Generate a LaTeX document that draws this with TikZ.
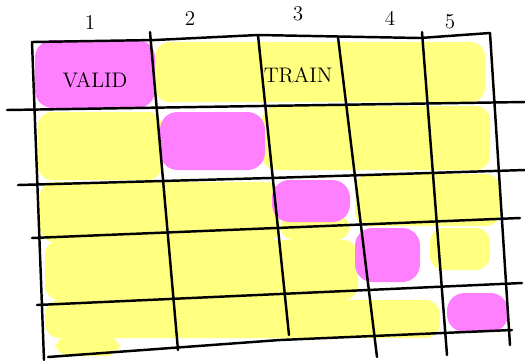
\documentclass[tikz,border=0pt]{standalone}
\usepackage{tikz}
\usepackage{color}

\definecolor{validpink}{HTML}{FF80FF}
\definecolor{trainyellow}{HTML}{FFFF80}

\begin{document}
\begin{tikzpicture}[x=0.02cm, y=-0.02cm,
    gridline/.style={line width=1.4pt, line cap=round, line join=round},
    trainfill/.style={fill=trainyellow, rounded corners=8},
    validfill/.style={fill=validpink, rounded corners=10},
    label/.style={font=\large}]
            % Fix the page to the size of the reference.
            \useasboundingbox (0,0) rectangle (525,360);

            % Yellow marker strokes for the training folds.
            \fill[trainfill] (155,42) rectangle (485,102);
            \fill[trainfill] (38,112) rectangle (162,180);
            \fill[trainfill] (262,106) rectangle (490,170);
            \fill[trainfill] (40,182) rectangle (280,242);
            \fill[trainfill] (280,215) rectangle (350,240);
            \fill[trainfill] (355,174) rectangle (500,226);
            \fill[trainfill] (45,240) rectangle (358,300);
            \fill[trainfill] (430,228) rectangle (490,270);
            \fill[trainfill] (45,300) rectangle (440,338);
            \fill[trainfill] (55,336) rectangle (120,356);

            % Pink marker strokes for the validation fold, one per row.
            \fill[validfill] (35,40) rectangle (155,108);
            \fill[validfill] (160,112) rectangle (265,170);
            \fill[validfill] (272,180) rectangle (350,222);
            \fill[validfill] (355,228) rectangle (420,282);
            \fill[validfill] (447,293) rectangle (508,332);

            % Horizontal lines of the grid.
            \draw[gridline] (32,42) -- (155,40) -- (258,35) -- (420,38) -- (490,33);
            \draw[gridline] (7,110) -- (260,106) -- (525,102);
            \draw[gridline] (18,185) -- (270,178) -- (525,170);
            \draw[gridline] (32,238) -- (520,218);
            \draw[gridline] (37,305) -- (522,283);
            \draw[gridline] (48,357) -- (280,340) -- (512,330);

            % Vertical lines of the grid.
            \draw[gridline] (32,42) -- (44,360);
            \draw[gridline] (150,32) -- (178,350);
            \draw[gridline] (258,35) -- (289,335);
            \draw[gridline] (338,37) -- (377,357);
            \draw[gridline] (422,32) -- (447,355);
            \draw[gridline] (490,33) -- (510,345);

            % Fold numbers above the columns.
            \node[label] (num1) at (90,22) {1};
            \node[label] (num2) at (190,18) {2};
            \node[label] (num3) at (298,14) {3};
            \node[label] (num4) at (390,18) {4};
            \node[label] (num5) at (450,22) {5};

            % Texts in the first row.
            \node[label] (valid) at (95,80) {VALID};
            \node[label] (train) at (298,75) {TRAIN};
        \end{tikzpicture}
\end{document}
